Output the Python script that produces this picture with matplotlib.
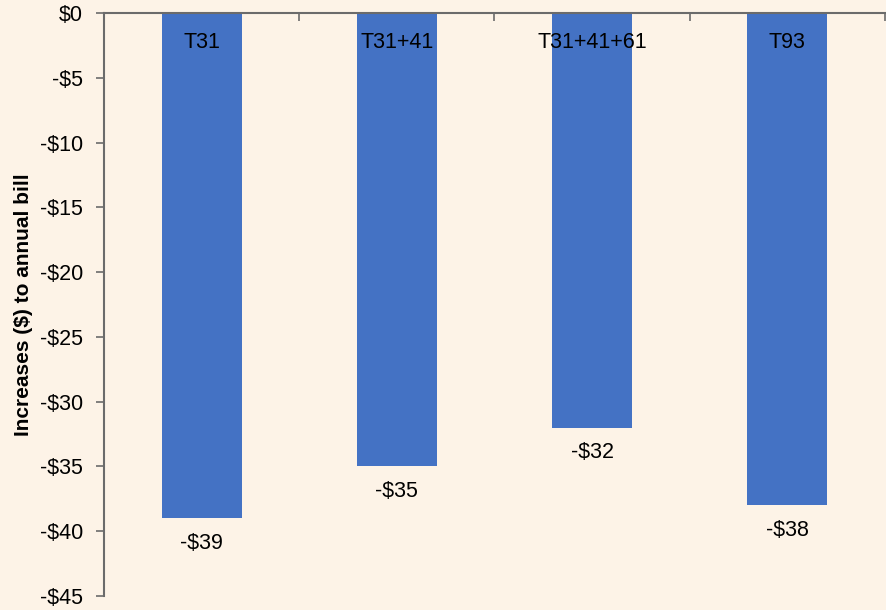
import numpy as np
import matplotlib.pyplot as plt
from matplotlib.ticker import FuncFormatter

plt.rcParams['font.family'] = ['Liberation Sans', 'DejaVu Sans']
plt.rcParams['text.parse_math'] = False

# data
categories = ['T31', 'T31+41', 'T31+41+61', 'T93']
values = [-39, -35, -32, -38]
ylabel = 'Increases ($) to annual bill'

bg = '#FDF3E7'
bar_color = '#4472C4'
spine_color = '#6B6B6B'

fig = plt.figure(figsize=(8.87, 6.10), dpi=100, facecolor=bg)
ax = fig.add_axes([0.1172, 0.023, 0.8805, 0.9557])
ax.set_facecolor(bg)

x = np.arange(len(categories))
bars = ax.bar(x, values, width=0.41, color=bar_color, zorder=2)

ax.set_xlim(-0.5, len(categories) - 0.5)
ax.set_ylim(-45, 0)
ax.set_yticks(np.arange(-45, 1, 5))
ax.yaxis.set_major_formatter(FuncFormatter(
    lambda v, p: '$0' if v == 0 else '-$%d' % abs(v)))
ax.tick_params(axis='y', labelsize=15.5, length=6, width=1.2, color=spine_color, pad=9)

# top axis line with category boundary ticks
ax.xaxis.tick_top()
ax.set_xticks(np.arange(0.5, len(categories), 1))
ax.tick_params(axis='x', direction='in', length=6, width=1.2, color=spine_color,
               labeltop=False, labelbottom=False)

for s in ['bottom', 'right']:
    ax.spines[s].set_visible(False)
for s in ['top', 'left']:
    ax.spines[s].set_color(spine_color)
    ax.spines[s].set_linewidth(1.5)

for xi, cat, val in zip(x, categories, values):
    ax.annotate(cat, (xi, 0), xytext=(0, -21), textcoords='offset points',
                ha='center', va='center', fontsize=15.5, zorder=3)
    ax.annotate('-$%d' % abs(val), (xi, val), xytext=(0, -18),
                textcoords='offset points', ha='center', va='center', fontsize=15.5)

ax.set_ylabel(ylabel, fontsize=15, fontweight='bold', labelpad=5)

fig.savefig('out.png', dpi=100, facecolor=bg)
